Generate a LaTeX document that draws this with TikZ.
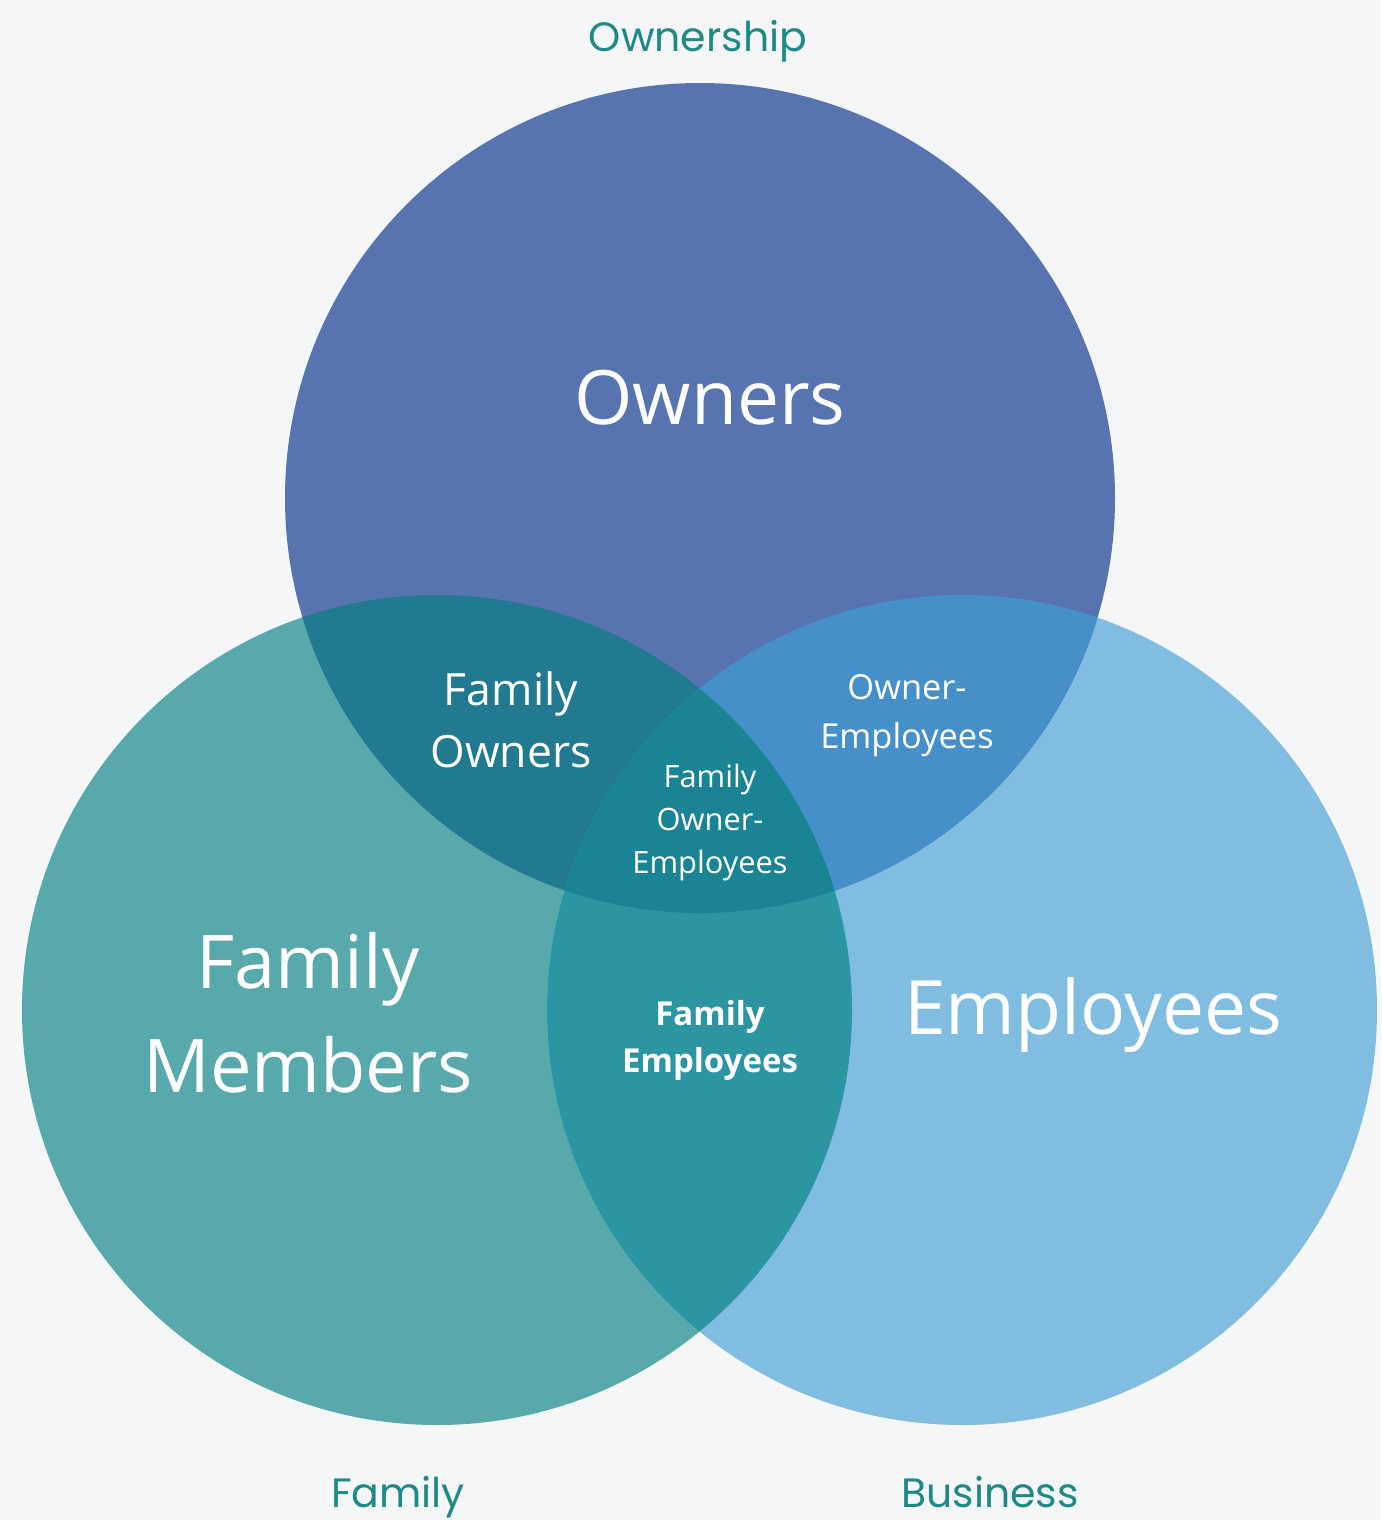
\documentclass[tikz,border=0pt]{standalone}
\usepackage{fontspec}
\setmainfont{Open Sans}
\newfontfamily\headfont{Poppins}
\usepackage{tikz}
\usetikzlibrary{positioning}
\definecolor{bgcol}{HTML}{F4F6F7}
\definecolor{ownercol}{HTML}{5874B0}
\definecolor{familycol}{HTML}{58A9AB}
\definecolor{employcol}{HTML}{80BDE1}
\definecolor{famowncol}{HTML}{217A8F}
\definecolor{ownempcol}{HTML}{4690CA}
\definecolor{famempcol}{HTML}{2B95A1}
\definecolor{allcol}{HTML}{1A8494}
\definecolor{headcol}{HTML}{1E8A85}
\tikzstyle{label} = [text=white, align=center, inner sep=0pt]
\tikzstyle{head} = [text=headcol, inner sep=0pt, anchor=base, font=\headfont\fontsize{41}{48}\selectfont]
\newcommand{\ownerdisc}{(700,498) circle (415)}
\newcommand{\familydisc}{(437,1010) circle (415)}
\newcommand{\employdisc}{(962,1010) circle (415)}

\begin{document}
\begin{tikzpicture}[x=1pt, y=-1pt]
    \fill [bgcol] (0,0) rectangle (1381,1520);
    \useasboundingbox (0,0) rectangle (1381,1520);
    % the three circles
    \fill [familycol] \familydisc;
    \fill [employcol] \employdisc;
    \fill [ownercol] \ownerdisc;
    % overlaps
    \begin{scope}
        \clip \familydisc;
        \fill [famowncol] \ownerdisc;
    \end{scope}
    \begin{scope}
        \clip \employdisc;
        \fill [ownempcol] \ownerdisc;
    \end{scope}
    \begin{scope}
        \clip \familydisc;
        \fill [famempcol] \employdisc;
    \end{scope}
    \begin{scope}
        \clip \familydisc;
        \clip \employdisc;
        \fill [allcol] \ownerdisc;
    \end{scope}
    % texts
    \node [label, font=\fontsize{75}{90}\selectfont] (owners) at (710,398) {Owners};
    \node [label, font=\fontsize{74}{104}\selectfont] (members) at (308,1013) {Family\\Members};
    \node [label, font=\fontsize{75}{90}\selectfont] (employees) at (1093,1015) {Employees};
    \node [label, font=\fontsize{44.5}{62}\selectfont] (famowners) at (511,720) {Family\\Owners};
    \node [label, font=\fontsize{34.4}{49}\selectfont] (ownemp) at (907,716) {Owner-\\Employees};
    \node [label, font=\fontsize{30.8}{43}\selectfont] (famownemp) at (710,822) {Family\\Owner-\\Employees};
    \node [label, font=\bfseries\fontsize{33}{47}\selectfont] (famemp) at (710,1040) {Family\\Employees};
    \node [head] (ownership) at (698,52) {Ownership};
    \node [head] (family) at (398,1507) {Family};
    \node [head] (business) at (990,1507) {Business};
\end{tikzpicture}
\end{document}
